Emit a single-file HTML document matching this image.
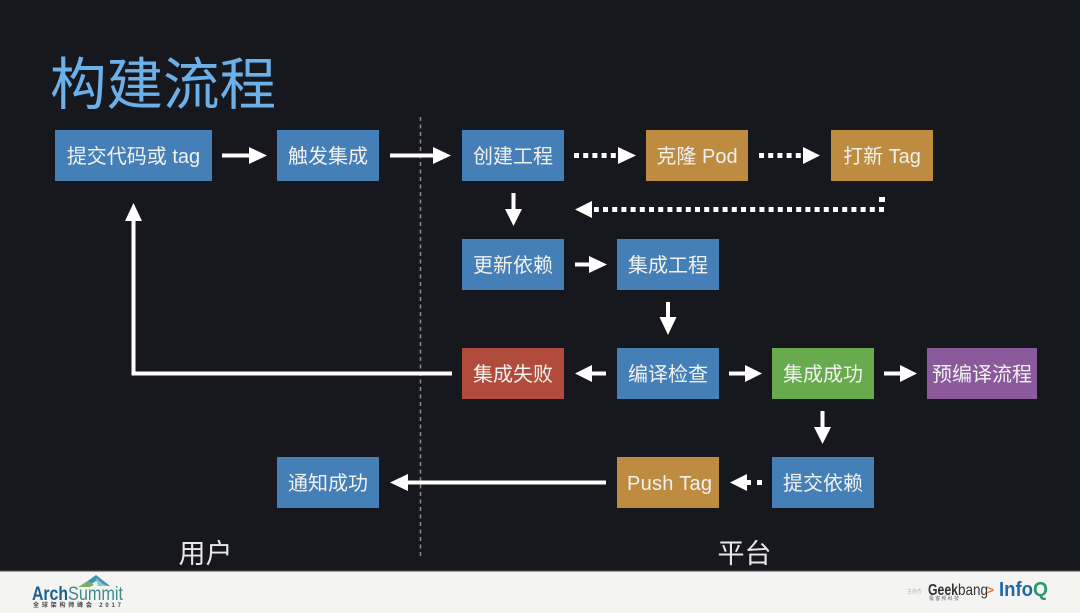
<!DOCTYPE html>
<html lang="zh">
<head>
<meta charset="utf-8">
<style>
html,body{margin:0;padding:0;width:1080px;height:613px;overflow:hidden;background:#17181e}
svg{display:block;filter:blur(0.3px)}
text{font-family:"Liberation Sans","Noto Sans CJK SC",sans-serif}
.n{font-size:20px;fill:#f1f1ee;text-anchor:middle;dominant-baseline:central}
.d{stroke:#fff;stroke-width:5px;fill:none;stroke-dasharray:5 4.200}
.s{stroke:#fff;stroke-width:4px;fill:none}
</style>
</head>
<body>
<svg width="1080" height="613" viewBox="0 0 1080 613" xmlns="http://www.w3.org/2000/svg">
<rect width="1080" height="613" fill="#17181e"/>
<text x="50" y="104" font-size="56.5" fill="#6cb0ea">构建流程</text>

<line x1="420.500" y1="117" x2="420.500" y2="556" stroke="#8a8a8a" stroke-width="1.500" stroke-dasharray="4 3.500"/>

<!-- nodes -->
<g>
<rect x="55" y="130" width="157" height="51" fill="#457fb8"/>
<rect x="277" y="130" width="102" height="51" fill="#457fb8"/>
<rect x="462" y="130" width="102" height="51" fill="#457fb8"/>
<rect x="646" y="130" width="102" height="51" fill="#bd8c41"/>
<rect x="831" y="130" width="102" height="51" fill="#bd8c41"/>
<rect x="462" y="239" width="102" height="51" fill="#457fb8"/>
<rect x="617" y="239" width="102" height="51" fill="#457fb8"/>
<rect x="462" y="348" width="102" height="51" fill="#b14c3c"/>
<rect x="617" y="348" width="102" height="51" fill="#457fb8"/>
<rect x="772" y="348" width="102" height="51" fill="#68ab4e"/>
<rect x="927" y="348" width="110" height="51" fill="#8a5a9c"/>
<rect x="277" y="457" width="102" height="51" fill="#457fb8"/>
<rect x="617" y="457" width="102" height="51" fill="#bd8c41"/>
<rect x="772" y="457" width="102" height="51" fill="#457fb8"/>
</g>
<g>
<text class="n" x="133.500" y="157">提交代码或 tag</text>
<text class="n" x="328" y="157">触发集成</text>
<text class="n" x="513" y="157">创建工程</text>
<text class="n" x="697" y="157">克隆 Pod</text>
<text class="n" x="882" y="157">打新 Tag</text>
<text class="n" x="513" y="266">更新依赖</text>
<text class="n" x="668" y="266">集成工程</text>
<text class="n" x="513" y="375">集成失败</text>
<text class="n" x="668" y="375">编译检查</text>
<text class="n" x="823" y="375">集成成功</text>
<text class="n" x="982" y="375">预编译流程</text>
<text class="n" x="328" y="484">通知成功</text>
<text class="n" x="669.500" y="484" textLength="85" lengthAdjust="spacing">Push Tag</text>
<text class="n" x="823" y="484">提交依赖</text>
</g>

<!-- solid arrows -->
<g fill="#fff">
<path class="s" d="M222 155.500H252"/><path d="M249 147L267 155.500L249 164Z"/>
<path class="s" d="M390 155.500H436"/><path d="M433 147L451 155.500L433 164Z"/>
<path class="s" d="M513.500 193V212"/><path d="M505 209L513.500 226L522 209Z"/>
<path class="s" d="M575 264.500H592"/><path d="M589 256L607 264.500L589 273Z"/>
<path class="s" d="M668 302V320"/><path d="M659.500 317L668 335L676.500 317Z"/>
<path class="s" d="M606 373.500H590"/><path d="M592 365L575 373.500L592 382Z"/>
<path class="s" d="M729 373.500H748"/><path d="M745 365L762 373.500L745 382Z"/>
<path class="s" d="M884 373.500H903"/><path d="M900 365L917 373.500L900 382Z"/>
<path class="s" d="M822.500 411V430"/><path d="M814 427L822.500 444L831 427Z"/>
<path class="s" d="M606 482.500H404"/><path d="M408 474L390 482.500L408 491Z"/>
<path class="s" d="M452 373.500H133.500V218"/><path d="M125 221L133.500 203L142 221Z"/>
</g>

<!-- dotted arrows -->
<g fill="#fff">
<path class="d" d="M574 155.500H618"/><path d="M618 147L636 155.500L618 164Z"/>
<path class="d" d="M759 155.500H803"/><path d="M803 147L820 155.500L803 164Z"/>
<path class="d" d="M884 209.500H594"/><path d="M592 201L575 209.500L592 218Z"/>
<rect x="879" y="197" width="6" height="5"/>
<path d="M747 474L730 482.500L747 491Z"/>
<rect x="746" y="480" width="5" height="5"/><rect x="757" y="480" width="5" height="5"/>
</g>

<text x="205.500" y="563" font-size="27" fill="#e8e8e8" text-anchor="middle">用户</text>
<text x="744.500" y="563" font-size="27" fill="#e8e8e8" text-anchor="middle">平台</text>

<!-- footer -->
<rect y="571" width="1080" height="42" fill="#f4f4f3"/>
<rect y="570" width="1080" height="1.500" fill="#3a3b3e"/>
<path d="M82 585L96 575L110 586L102 586L96 581L90 585Z" fill="#3f93b5"/>
<path d="M78 587L88 581L94 585L90 587Z" fill="#7fae6a"/>
<path d="M96 578L103 584L108 586L98 586Z" fill="#8fc6d8"/>
<text x="32" y="600" font-size="19" font-weight="bold" fill="#1d5f8f" textLength="36" lengthAdjust="spacingAndGlyphs">Arch</text>
<text x="68" y="600" font-size="19" fill="#3d8c8c" textLength="55" lengthAdjust="spacingAndGlyphs">Summit</text>
<text x="33" y="607" font-size="6" font-weight="bold" fill="#444" textLength="88">全球架构师峰会 2017</text>
<text x="907" y="593" font-size="5" fill="#aaa">主办方</text>
<text x="928" y="595" font-size="16" font-weight="bold" fill="#333" textLength="30" lengthAdjust="spacingAndGlyphs">Geek</text>
<text x="958" y="595" font-size="16" fill="#333" textLength="30" lengthAdjust="spacingAndGlyphs">bang</text>
<text x="987" y="594" font-size="12" font-weight="bold" fill="#d9702a">&gt;</text>
<text x="929" y="600" font-size="5" fill="#666" textLength="30">极客邦科技</text>
<text x="999" y="596" font-size="20" font-weight="bold" fill="#1f6aa5" textLength="34" lengthAdjust="spacingAndGlyphs">Info</text>
<text x="1033" y="596" font-size="20" font-weight="bold" fill="#2a9a6a" textLength="15" lengthAdjust="spacingAndGlyphs">Q</text>
</svg>
</body>
</html>
